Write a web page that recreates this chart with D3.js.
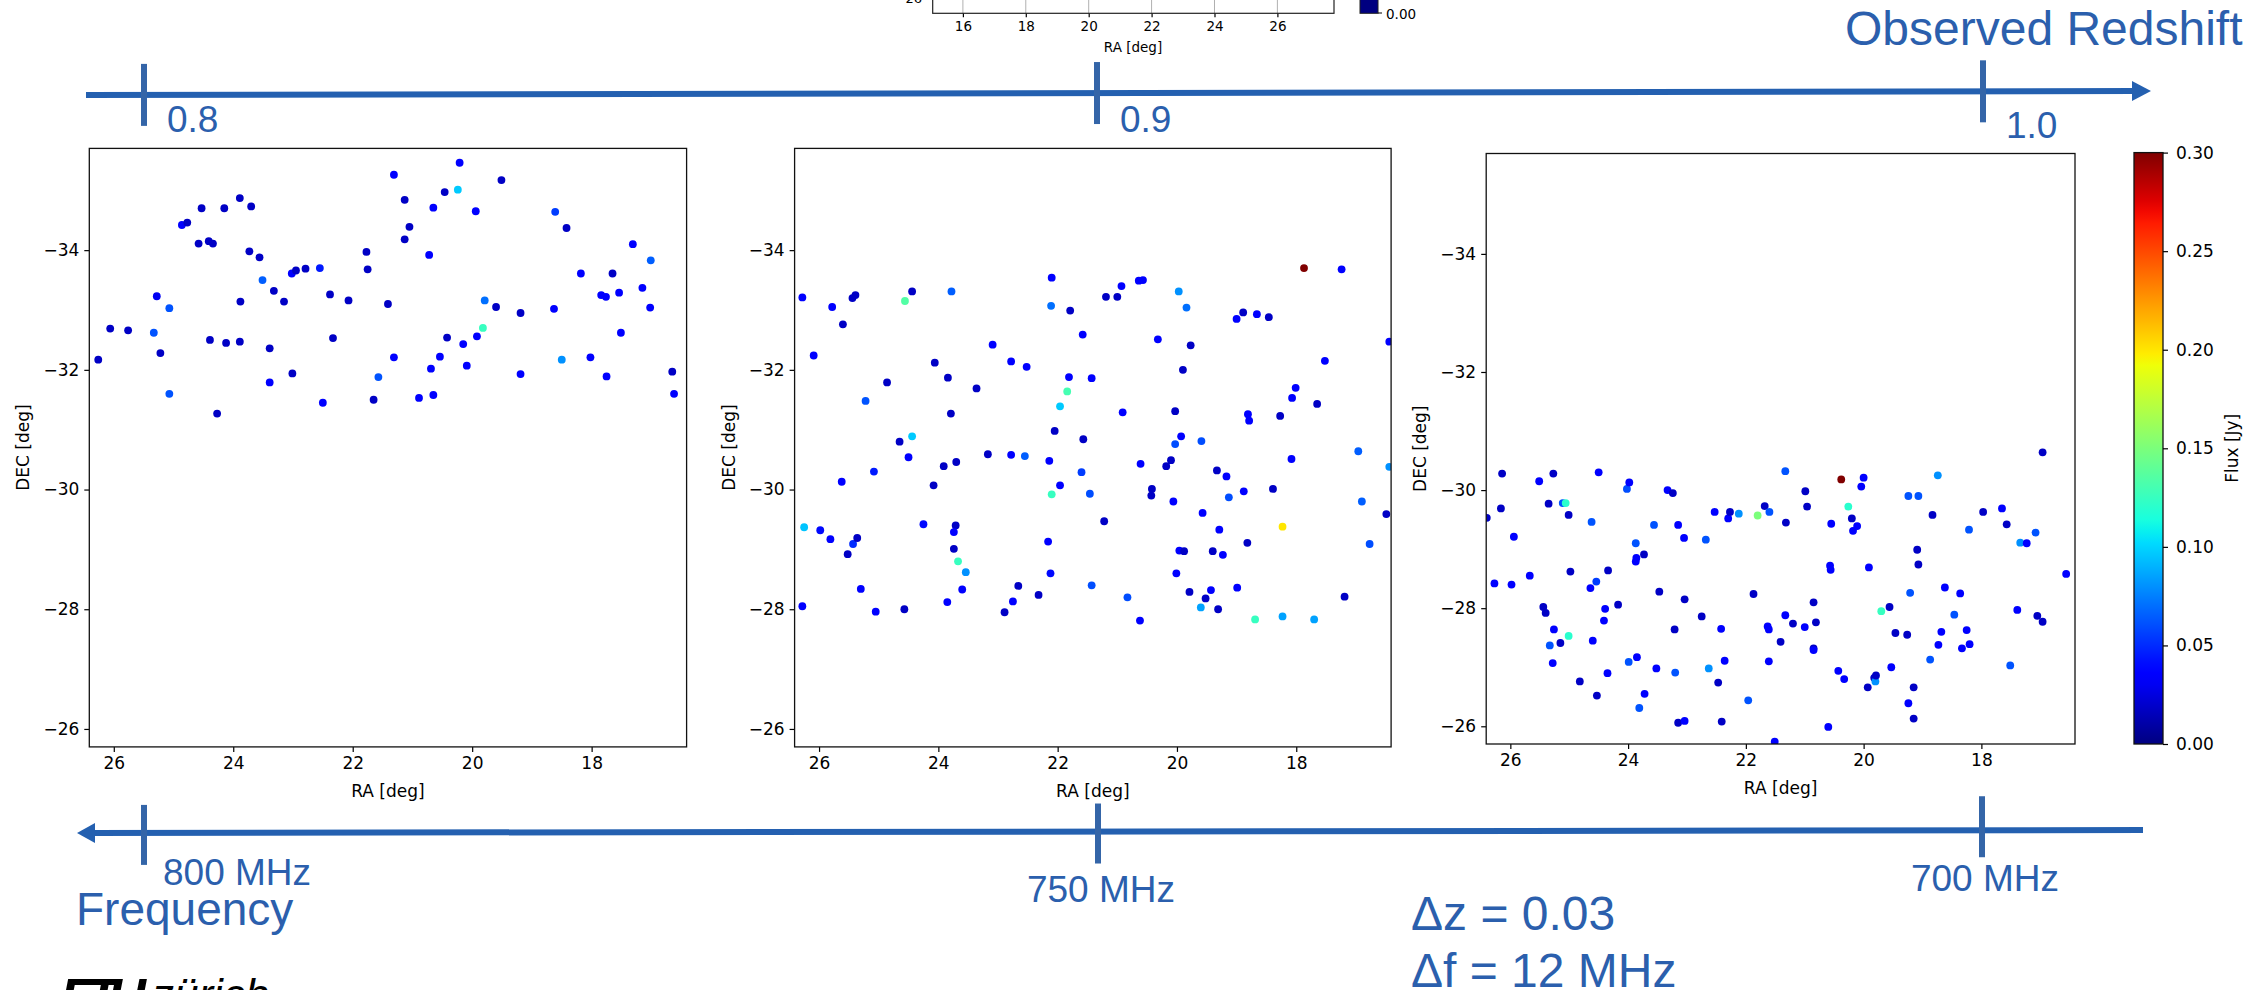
<!DOCTYPE html>
<html>
<head>
<meta charset="utf-8">
<script src="https://cdn.jsdelivr.net/npm/d3@7"></script>
<style>
  body { margin: 0; background: #fff; }
  .canvas { width: 2260px; height: 990px; }
  .axis text { font-family: "DejaVu Sans", sans-serif; font-size: 17px; fill: #000; }
  .axis path { display: none; }
  .axis line { stroke: #000; stroke-width: 1.2; }
  .lbl { font-family: "DejaVu Sans", sans-serif; font-size: 17px; fill: #000; }
  .blue { font-family: "Liberation Sans", Arial, sans-serif; fill: #2b5fad; }
</style>
</head>
<body>
<div class="canvas"></div>
<script>
// --- data: [RA, DEC, flux Jy] per redshift slice
var slice1 = [[26.26,-32.17,.018],[26.06,-32.69,.018],[25.76,-32.66,.018],[25.33,-32.62,.062],[25.28,-33.23,.03],[25.22,-32.28,.018],[25.07,-33.03,.062],[25.07,-31.60,.062],[24.86,-34.42,.036],[24.77,-34.46,.018],[24.58,-34.11,.018],[24.53,-34.70,.018],[24.41,-34.15,.018],[24.34,-34.11,.018],[24.39,-32.50,.018],[24.27,-31.27,.018],[24.15,-34.70,.018],[24.12,-32.45,.018],[23.89,-34.87,.018],[23.88,-33.14,.018],[23.89,-32.47,.018],[23.73,-33.98,.018],[23.70,-34.73,.018],[23.56,-33.88,.018],[23.51,-33.50,.065],[23.39,-32.36,.018],[23.39,-31.79,.036],[23.32,-33.32,.018],[23.15,-33.14,.018],[23.02,-33.61,.036],[22.95,-33.66,.018],[23.01,-31.94,.018],[22.79,-33.69,.018],[22.55,-33.70,.045],[22.50,-31.45,.036],[22.38,-33.26,.018],[22.33,-32.53,.018],[22.07,-33.16,.018],[21.77,-33.97,.018],[21.75,-33.68,.018],[21.65,-31.50,.018],[21.57,-31.88,.062],[21.41,-33.10,.018],[21.31,-35.26,.036],[21.31,-32.21,.036],[21.13,-34.84,.018],[21.13,-34.18,.018],[21.05,-34.39,.018],[20.89,-31.53,.036],[20.72,-33.92,.036],[20.69,-32.02,.036],[20.65,-34.71,.036],[20.65,-31.58,.036],[20.54,-32.22,.036],[20.46,-34.97,.018],[20.42,-32.54,.018],[20.21,-35.46,.036],[20.24,-35.01,.097],[20.15,-32.43,.036],[20.09,-32.07,.036],[19.94,-34.65,.036],[19.92,-32.56,.036],[19.82,-32.70,.125],[19.79,-33.16,.07],[19.60,-33.05,.018],[19.51,-35.17,.018],[19.19,-32.95,.018],[19.19,-31.93,.036],[18.63,-33.02,.036],[18.61,-34.64,.055],[18.50,-32.17,.08],[18.42,-34.37,.018],[18.18,-33.61,.036],[18.02,-32.21,.036],[17.84,-33.25,.036],[17.76,-33.22,.036],[17.75,-31.89,.036],[17.65,-33.61,.018],[17.54,-33.29,.036],[17.51,-32.62,.036],[17.31,-34.10,.036],[17.15,-33.37,.036],[17.02,-33.04,.036],[17.01,-33.83,.065],[16.65,-31.97,.018],[16.62,-31.60,.036]];

var slice2 = [[26.28,-33.21,.036],[26.09,-32.24,.036],[25.78,-33.05,.036],[25.60,-32.76,.018],[25.44,-33.20,.018],[25.39,-33.25,.018],[24.44,-33.31,.018],[24.56,-33.15,.135],[23.78,-33.31,.065],[24.86,-31.79,.018],[25.22,-31.48,.062],[24.65,-30.80,.018],[24.44,-30.89,.097],[24.50,-30.54,.036],[25.08,-30.30,.045],[25.62,-30.13,.036],[26.25,-29.37,.095],[25.98,-29.32,.04],[25.81,-29.17,.036],[25.43,-29.09,.05],[25.36,-29.19,.018],[25.52,-28.92,.018],[25.30,-28.34,.036],[26.28,-28.05,.036],[25.05,-27.96,.036],[24.57,-28.00,.018],[24.06,-32.12,.018],[23.84,-31.87,.018],[23.79,-31.27,.018],[24.08,-30.07,.018],[23.91,-30.39,.018],[23.70,-30.46,.018],[24.25,-29.42,.04],[23.71,-29.40,.018],[23.74,-29.29,.036],[23.74,-29.01,.018],[23.67,-28.80,.125],[23.54,-28.62,.08],[23.60,-28.33,.036],[23.85,-28.12,.036],[23.36,-31.69,.018],[23.09,-32.42,.036],[23.17,-30.59,.018],[22.78,-32.14,.036],[22.78,-30.58,.036],[22.52,-32.05,.036],[22.55,-30.56,.065],[22.66,-28.39,.018],[22.75,-28.13,.036],[22.89,-27.95,.018],[22.32,-28.24,.018],[22.10,-33.54,.036],[22.11,-33.07,.07],[21.79,-32.99,.018],[21.81,-31.88,.036],[21.84,-31.64,.13],[21.96,-31.39,.097],[22.05,-30.98,.018],[22.14,-30.48,.036],[21.96,-30.07,.036],[22.10,-29.92,.125],[22.16,-29.13,.036],[22.12,-28.60,.04],[21.58,-32.59,.036],[21.43,-31.86,.036],[21.57,-30.84,.018],[21.60,-30.29,.055],[21.46,-29.93,.06],[21.43,-28.40,.06],[21.19,-33.22,.018],[21.00,-33.22,.018],[20.93,-33.40,.036],[20.91,-31.29,.036],[21.22,-29.47,.018],[20.83,-28.20,.06],[20.64,-33.49,.036],[20.57,-33.50,.036],[20.32,-32.51,.036],[20.61,-30.43,.036],[20.42,-30.01,.018],[20.43,-29.90,.018],[20.62,-27.81,.036],[20.03,-31.31,.018],[20.03,-30.76,.06],[19.93,-30.89,.036],[20.10,-30.49,.018],[20.18,-30.39,.018],[20.06,-29.80,.036],[20.01,-28.60,.036],[19.97,-33.31,.08],[19.84,-33.04,.07],[19.77,-32.41,.018],[19.90,-32.00,.018],[19.96,-28.98,.036],[19.88,-28.97,.018],[19.79,-28.29,.018],[19.59,-30.81,.06],[19.57,-29.61,.036],[19.60,-28.03,.085],[19.52,-28.18,.018],[19.43,-28.32,.036],[19.40,-28.97,.018],[19.33,-30.32,.018],[19.29,-29.33,.036],[19.23,-28.91,.036],[19.31,-28.00,.018],[19.17,-30.22,.036],[19.13,-29.87,.06],[19.00,-32.85,.036],[18.89,-32.96,.018],[18.88,-29.97,.036],[18.99,-28.36,.036],[18.81,-31.26,.036],[18.79,-31.15,.036],[18.82,-29.11,.018],[18.66,-32.93,.036],[18.69,-27.83,.125],[18.46,-32.88,.018],[18.39,-30.01,.018],[18.27,-31.23,.018],[18.23,-29.38,.2],[18.23,-27.88,.085],[18.08,-30.51,.036],[18.07,-31.53,.036],[18.01,-31.70,.036],[17.87,-33.70,.3],[17.65,-31.43,.018],[17.70,-27.83,.085],[17.52,-32.15,.036],[17.24,-33.68,.036],[17.19,-28.21,.018],[16.96,-30.64,.065],[16.90,-29.80,.065],[16.77,-29.09,.06],[16.49,-29.59,.018],[16.44,-32.47,.036],[16.44,-30.38,.08]];

var slice3 = [[26.40,-29.53,.018],[26.14,-30.28,.018],[26.16,-29.69,.018],[25.94,-29.21,.036],[26.27,-28.42,.036],[25.98,-28.40,.036],[25.67,-28.55,.036],[25.51,-30.15,.036],[25.27,-30.28,.018],[25.35,-29.77,.018],[25.11,-29.78,.062],[25.06,-29.78,.12],[25.01,-29.58,.018],[24.98,-28.62,.018],[25.44,-28.02,.018],[25.40,-27.92,.018],[25.26,-27.64,.036],[25.33,-27.37,.062],[25.15,-27.41,.018],[25.01,-27.53,.12],[25.28,-27.07,.036],[24.82,-26.76,.018],[24.53,-26.52,.018],[24.62,-29.46,.062],[24.50,-30.30,.036],[24.64,-28.34,.036],[24.54,-28.45,.055],[24.60,-27.45,.036],[24.39,-27.99,.036],[24.41,-27.79,.036],[24.34,-28.64,.018],[24.35,-26.90,.036],[24.17,-28.06,.018],[24.02,-30.02,.06],[23.98,-30.13,.036],[23.87,-29.10,.062],[23.86,-28.85,.036],[23.87,-28.79,.036],[23.73,-28.91,.018],[23.85,-27.17,.036],[23.99,-27.09,.062],[23.81,-26.31,.062],[23.72,-26.55,.036],[23.56,-29.41,.062],[23.47,-28.28,.018],[23.52,-26.98,.036],[23.33,-30.00,.036],[23.24,-29.95,.018],[23.15,-29.41,.036],[23.05,-29.19,.036],[23.04,-28.15,.018],[23.21,-27.64,.018],[23.20,-26.91,.062],[23.15,-26.06,.018],[23.04,-26.09,.036],[22.68,-29.16,.062],[22.75,-27.86,.018],[22.63,-26.98,.08],[22.53,-29.63,.036],[22.47,-26.74,.018],[22.42,-27.65,.036],[22.41,-26.08,.018],[22.36,-27.11,.036],[22.30,-29.52,.036],[22.27,-29.63,.018],[22.12,-29.60,.08],[21.96,-26.44,.062],[21.87,-28.24,.018],[21.80,-29.57,.15],[21.68,-29.73,.018],[21.60,-29.63,.062],[21.63,-27.69,.036],[21.61,-27.64,.036],[21.61,-27.10,.036],[21.51,-25.74,.036],[21.41,-27.43,.018],[21.33,-30.32,.062],[21.32,-29.45,.018],[21.33,-27.88,.036],[21.20,-27.74,.018],[21.00,-27.68,.036],[20.99,-29.98,.018],[20.96,-29.72,.018],[20.85,-28.10,.018],[20.85,-27.32,.018],[20.85,-27.29,.036],[20.81,-27.76,.018],[20.60,-25.99,.036],[20.55,-29.43,.036],[20.57,-28.72,.036],[20.56,-28.65,.036],[20.43,-26.94,.036],[20.38,-30.18,.3],[20.33,-26.80,.036],[20.26,-29.72,.12],[20.20,-29.52,.018],[20.18,-29.31,.036],[20.11,-29.39,.036],[20.04,-30.06,.036],[20.00,-30.21,.036],[19.91,-28.69,.036],[19.93,-26.66,.018],[19.82,-26.82,.018],[19.80,-26.76,.08],[19.79,-26.86,.018],[19.70,-27.95,.125],[19.56,-28.02,.018],[19.53,-27.00,.036],[19.46,-27.58,.018],[19.26,-27.55,.018],[19.24,-29.90,.062],[19.21,-28.26,.062],[19.24,-26.39,.036],[19.15,-26.66,.018],[19.15,-26.13,.018],[19.09,-28.99,.018],[19.07,-28.74,.018],[19.07,-29.90,.062],[18.87,-27.13,.062],[18.83,-29.58,.018],[18.74,-30.25,.08],[18.73,-27.38,.036],[18.68,-27.60,.036],[18.62,-28.35,.036],[18.46,-27.89,.062],[18.36,-28.25,.036],[18.33,-27.32,.036],[18.25,-27.63,.036],[18.21,-29.33,.062],[18.20,-27.39,.036],[17.97,-29.63,.018],[17.65,-29.69,.036],[17.57,-29.42,.018],[17.51,-27.03,.062],[17.39,-27.97,.036],[17.34,-29.11,.08],[17.23,-29.10,.036],[17.08,-29.28,.062],[17.05,-27.87,.018],[16.96,-30.64,.018],[16.96,-27.77,.018],[16.56,-28.58,.036]];

var raTicks = [26, 24, 22, 20, 18];
var decTicks = [-34, -32, -30, -28, -26];
var fluxTicks = [0, 0.05, 0.10, 0.15, 0.20, 0.25, 0.30];
var topRaTicks = [16, 18, 20, 22, 24, 26];
var redshiftTicks = [0.8, 0.9, 1.0];
var freqTicks = [800, 750, 700];
var freqLabels = ['800 MHz', '750 MHz', '700 MHz'];

var width = 2260, height = 990;
var svg = d3.select('.canvas').append('svg')
	.attr('width', width).attr('height', height);

// matplotlib "jet"
function jet(t) {
	function seg(p) {
		for (var i = 1; i < p.length; i++) {
			if (t <= p[i][0]) return p[i-1][1] + (p[i][1] - p[i-1][1]) * (t - p[i-1][0]) / (p[i][0] - p[i-1][0]);
		}
		return p[p.length-1][1];
	}
	var r = seg([[0,0],[0.35,0],[0.66,1],[0.89,1],[1,0.5]]);
	var g = seg([[0,0],[0.125,0],[0.375,1],[0.64,1],[0.91,0],[1,0]]);
	var b = seg([[0,0.5],[0.11,1],[0.34,1],[0.65,0],[1,0]]);
	return d3.rgb(r*255, g*255, b*255).toString();
}
var color = d3.scaleSequential(jet).domain([0, 0.3]);

// --- the three slice panels
var panels = [
	{data: slice1, x0: 89.3, x1: 686.6, y0: 148.4, y1: 746.9},
	{data: slice2, x0: 794.6, x1: 1391.1, y0: 148.4, y1: 746.9},
	{data: slice3, x0: 1486.2, x1: 2075, y0: 153.5, y1: 744}
];

panels.forEach(function(p, i) {
	var x = d3.scaleLinear().domain([26.41, 16.41]).range([p.x0, p.x1]);
	var y = d3.scaleLinear().domain([-35.7, -25.7]).range([p.y0, p.y1]);
	var g = svg.append('g');

	g.append('clipPath').attr('id', 'clip' + i)
		.append('rect').attr('x', p.x0).attr('y', p.y0)
		.attr('width', p.x1 - p.x0).attr('height', p.y1 - p.y0);

	g.append('g').attr('clip-path', 'url(#clip' + i + ')')
		.selectAll('circle')
		.data(p.data)
		.enter()
		.append('circle')
		.attr('cx', d => x(d[0]))
		.attr('cy', d => y(d[1]))
		.attr('r', 3.9)
		.attr('fill', d => color(d[2]));

	g.append('g').attr('class', 'axis')
		.attr('transform', 'translate(0,' + p.y1 + ')')
		.call(d3.axisBottom(x).tickValues(raTicks).tickSize(5).tickPadding(5).tickFormat(d3.format('d')));
	g.append('g').attr('class', 'axis')
		.attr('transform', 'translate(' + p.x0 + ',0)')
		.call(d3.axisLeft(y).tickValues(decTicks).tickSize(5).tickPadding(5));

	g.append('rect')
		.attr('x', p.x0).attr('y', p.y0)
		.attr('width', p.x1 - p.x0).attr('height', p.y1 - p.y0)
		.attr('fill', 'none').attr('stroke', '#111').attr('stroke-width', 1.3);

	g.append('text').attr('class', 'lbl')
		.attr('x', (p.x0 + p.x1) / 2).attr('y', p.y1 + 50)
		.attr('text-anchor', 'middle').text('RA [deg]');
	g.append('text').attr('class', 'lbl')
		.attr('transform', 'translate(' + (p.x0 - 60) + ',' + ((p.y0 + p.y1) / 2) + ') rotate(-90)')
		.attr('text-anchor', 'middle').text('DEC [deg]');
});

// --- colorbar
var cb = {x: 2134, w: 29, y0: 152.6, y1: 744};
var grad = svg.append('defs').append('linearGradient')
	.attr('id', 'jetgrad').attr('x1', 0).attr('y1', 1).attr('x2', 0).attr('y2', 0);
d3.range(0, 1.0001, 0.02).forEach(function(t) {
	grad.append('stop').attr('offset', t).attr('stop-color', jet(t));
});
svg.append('rect').attr('x', cb.x).attr('y', cb.y0)
	.attr('width', cb.w).attr('height', cb.y1 - cb.y0)
	.attr('fill', 'url(#jetgrad)').attr('stroke', '#111').attr('stroke-width', 1.3);
var cy = d3.scaleLinear().domain([0, 0.3]).range([cb.y1, cb.y0]);
svg.append('g').attr('class', 'axis')
	.attr('transform', 'translate(' + (cb.x + cb.w) + ',0)')
	.call(d3.axisRight(cy).tickValues(fluxTicks).tickSize(5).tickPadding(8).tickFormat(d3.format('.2f')));
svg.append('text').attr('class', 'lbl')
	.attr('transform', 'translate(2238,' + ((cb.y0 + cb.y1) / 2) + ') rotate(-90)')
	.attr('text-anchor', 'middle').text('Flux [Jy]');

// --- cut-off plot peeking in at the top
var tx = d3.scaleLinear().domain([15.04, 27.8]).range([932.7, 1334]);
var topPlot = svg.append('g');
topPlot.selectAll('line.grid')
	.data(topRaTicks).enter().append('line')
	.attr('x1', d => tx(d)).attr('x2', d => tx(d))
	.attr('y1', -5).attr('y2', 13.3)
	.attr('stroke', '#b0b0b0').attr('stroke-width', 1);
topPlot.append('g').attr('class', 'axis')
	.attr('transform', 'translate(0,13.3)')
	.call(d3.axisBottom(tx).tickValues(topRaTicks).tickSize(4).tickPadding(4))
	.selectAll('text').style('font-size', '13.5px');
topPlot.append('rect').attr('x', 932.7).attr('y', -10).attr('width', 1334 - 932.7).attr('height', 23.3)
	.attr('fill', 'none').attr('stroke', '#222').attr('stroke-width', 1.2);
topPlot.append('text').attr('class', 'lbl').style('font-size', '13.5px')
	.attr('x', 1133).attr('y', 52).attr('text-anchor', 'middle').text('RA [deg]');
topPlot.append('text').attr('class', 'lbl').style('font-size', '13px').attr('fill', '#555')
	.attr('x', 922).attr('y', 3).attr('text-anchor', 'end').text('−26');
topPlot.append('rect').attr('x', 1360).attr('y', -5).attr('width', 18).attr('height', 18.3)
	.attr('fill', color(0)).attr('stroke', '#222').attr('stroke-width', 1);
topPlot.append('line').attr('x1', 1378).attr('x2', 1382).attr('y1', 13).attr('y2', 13).attr('stroke', '#000');
topPlot.append('text').attr('class', 'lbl').style('font-size', '13.5px')
	.attr('x', 1386).attr('y', 18.5).text('0.00');

// --- redshift arrow (top) and frequency arrow (bottom)
var lineCol = '#2460b0', tickCol = '#3465a8';
var zx = d3.scaleLinear().domain(redshiftTicks).range([144, 1097, 1983]);
var zy = d3.scaleLinear().domain([86, 2150]).range([95, 91]);
svg.append('line').attr('x1', 86).attr('y1', zy(86)).attr('x2', 2134).attr('y2', zy(2134))
	.attr('stroke', lineCol).attr('stroke-width', 6);
svg.append('path').attr('d', 'M2132,' + (zy(2132) - 10) + 'L2151,' + zy(2151) + 'L2132,' + (zy(2132) + 10) + 'Z')
	.attr('fill', lineCol);
svg.selectAll('line.ztick').data(redshiftTicks).enter().append('line')
	.attr('x1', d => zx(d)).attr('x2', d => zx(d))
	.attr('y1', d => zy(zx(d)) - 31).attr('y2', d => zy(zx(d)) + 31)
	.attr('stroke', tickCol).attr('stroke-width', 6);
svg.selectAll('text.zlbl').data(redshiftTicks).enter().append('text')
	.attr('class', 'blue').style('font-size', '37px')
	.attr('x', d => zx(d) + 23).attr('y', (d, i) => i == 2 ? 138 : 132)
	.text(d => d3.format('.1f')(d));
svg.append('text').attr('class', 'blue').style('font-size', '48px')
	.attr('x', 1845).attr('y', 45).text('Observed Redshift');

var fx = d3.scaleLinear().domain(freqTicks).range([144, 1098, 1982]);
var fy = d3.scaleLinear().domain([78, 2143]).range([833, 830]);
svg.append('line').attr('x1', 92).attr('y1', fy(92)).attr('x2', 2143).attr('y2', fy(2143))
	.attr('stroke', lineCol).attr('stroke-width', 6);
svg.append('path').attr('d', 'M95,' + (fy(95) - 10) + 'L77,' + fy(77) + 'L95,' + (fy(95) + 10) + 'Z')
	.attr('fill', lineCol);
svg.selectAll('line.ftick').data(freqTicks).enter().append('line')
	.attr('x1', d => fx(d)).attr('x2', d => fx(d))
	.attr('y1', (d, i) => fy(fx(d)) - (i == 2 ? 34 : 28)).attr('y2', (d, i) => fy(fx(d)) + (i == 2 ? 27 : 32))
	.attr('stroke', tickCol).attr('stroke-width', 6);
svg.selectAll('text.flbl').data(freqTicks).enter().append('text')
	.attr('class', 'blue').style('font-size', '37px')
	.attr('x', (d, i) => i == 0 ? fx(d) + 19 : fx(d) + 3)
	.attr('y', (d, i) => [885, 902, 891][i])
	.attr('text-anchor', (d, i) => i == 0 ? 'start' : 'middle')
	.text((d, i) => freqLabels[i]);
svg.append('text').attr('class', 'blue').style('font-size', '46px')
	.attr('x', 76).attr('y', 925).text('Frequency');
svg.append('text').attr('class', 'blue').style('font-size', '48px')
	.attr('x', 1411).attr('y', 930).text('Δz = 0.03');
svg.append('text').attr('class', 'blue').style('font-size', '48px')
	.attr('x', 1411).attr('y', 987).text('Δf = 12 MHz');

// --- logo, cut at the page bottom
svg.append('text').attr('x', 60).attr('y', 1016)
	.style('font-family', '"Liberation Sans", sans-serif').style('font-weight', 'bold')
	.style('font-style', 'italic').style('font-size', '54px').attr('fill', '#000')
	.attr('textLength', 86).text('ETH');
svg.append('text').attr('x', 152).attr('y', 1010)
	.style('font-family', '"Liberation Sans", sans-serif')
	.style('font-style', 'italic').style('font-size', '44px').attr('fill', '#000')
	.text('zürich');
</script>
</body>
</html>
